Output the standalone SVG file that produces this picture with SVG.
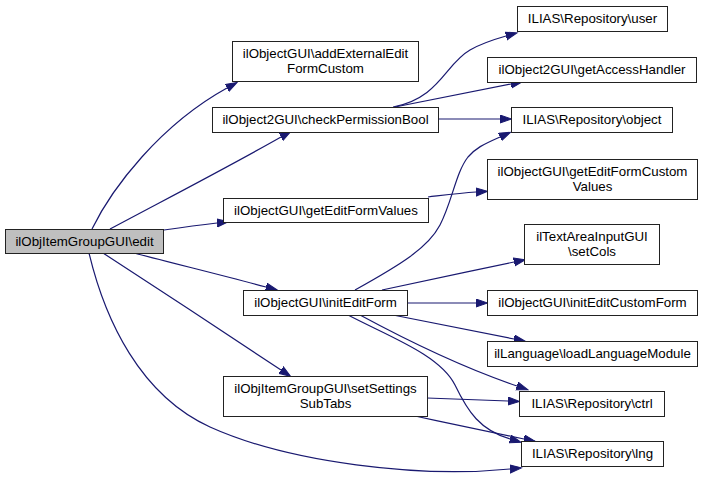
<svg xmlns="http://www.w3.org/2000/svg" width="703" height="480" viewBox="0 0 703 480">
<style>
.node rect{fill:#ffffff;stroke:#222222;stroke-width:1}
.node.root rect{fill:#bfbfbf}
.node text{font-family:"Liberation Sans",Arial,Helvetica,sans-serif;font-size:13.3px;fill:#000000;text-anchor:middle}
.edges path{fill:none;stroke:#191970;stroke-width:1.2;marker-end:url(#arrow)}
</style>
<defs>
<marker id="arrow" markerUnits="userSpaceOnUse" markerWidth="13" markerHeight="10" refX="0" refY="4.5" orient="auto" viewBox="0 0 13 10">
<path d="M0,0.5 L11.5,4.5 L0,8.5 z" fill="#191970" stroke="#191970" stroke-width="1"/>
</marker>
</defs>
<rect width="703" height="480" fill="#ffffff"/>
<g class="edges">
<path d="M92,229 C112,188 160,125 227,88"/>
<path d="M110,229 C170,197 230,166 281,137"/>
<path d="M164,230 C185,227 200,225 217,223"/>
<path d="M134,253 C180,265 225,276 266,287"/>
<path d="M103,253 C160,290 225,333 281,370"/>
<path d="M89,253 C105,320 140,395 210,427 C290,463 420,478 510,469"/>
<path d="M393,107 C440,98 445,64 470,50 C482,43 492,40 506,36"/>
<path d="M395,107 C430,100 470,92 511,84"/>
<path d="M438,119 L500,119"/>
<path d="M428,197 C445,195 460,193 476,192"/>
<path d="M355,290 C400,265 428,248 440,225 C452,202 456,172 468,157 C476,148 482,145 500,137"/>
<path d="M382,290 C425,281 470,271 514,262"/>
<path d="M407,303 L476,303"/>
<path d="M393,315 C435,323 475,331 514,339"/>
<path d="M360,315 C410,342 470,370 517,386"/>
<path d="M348,315 C390,337 440,355 455,385 C468,412 480,430 510,439"/>
<path d="M427,398 C455,399 482,400 508,401"/>
<path d="M415,416 C452,424 490,432 524,439"/>
</g>
<g id="node-edit" class="node root"><rect x="5.5" y="229.5" width="158" height="24"/><text x="84.5" y="245.5">ilObjItemGroupGUI\edit</text></g>
<g id="node-addExternalEditFormCustom" class="node"><rect x="232.5" y="41.5" width="186" height="40"/><text x="325.5" y="57.5">ilObjectGUI\addExternalEdit</text><text x="325.5" y="72.5">FormCustom</text></g>
<g id="node-checkPermissionBool" class="node"><rect x="212.5" y="107.5" width="226" height="25"/><text x="325.5" y="124">ilObject2GUI\checkPermissionBool</text></g>
<g id="node-getEditFormValues" class="node"><rect x="223.5" y="198.5" width="205" height="24"/><text x="326" y="214.5">ilObjectGUI\getEditFormValues</text></g>
<g id="node-initEditForm" class="node"><rect x="243.5" y="290.5" width="164" height="25"/><text x="325.5" y="307">ilObjectGUI\initEditForm</text></g>
<g id="node-setSettingsSubTabs" class="node"><rect x="223.5" y="376.5" width="204" height="40"/><text x="325.5" y="392.5">ilObjItemGroupGUI\setSettings</text><text x="325.5" y="407.5">SubTabs</text></g>
<g id="node-user" class="node"><rect x="517.5" y="6.5" width="150" height="25"/><text x="592.5" y="23">ILIAS\Repository\user</text></g>
<g id="node-getAccessHandler" class="node"><rect x="487.5" y="57.5" width="209" height="25"/><text x="592" y="74">ilObject2GUI\getAccessHandler</text></g>
<g id="node-object" class="node"><rect x="511.5" y="107.5" width="161" height="25"/><text x="592" y="124">ILIAS\Repository\object</text></g>
<g id="node-getEditFormCustomValues" class="node"><rect x="487.5" y="159.5" width="210" height="40"/><text x="592.5" y="175.5">ilObjectGUI\getEditFormCustom</text><text x="592.5" y="190.5">Values</text></g>
<g id="node-setCols" class="node"><rect x="524.5" y="224.5" width="135" height="40"/><text x="592" y="240.5">ilTextAreaInputGUI</text><text x="592" y="255.5">\setCols</text></g>
<g id="node-initEditCustomForm" class="node"><rect x="487.5" y="290.5" width="210" height="25"/><text x="592.5" y="307">ilObjectGUI\initEditCustomForm</text></g>
<g id="node-loadLanguageModule" class="node"><rect x="487.5" y="341.5" width="210" height="25"/><text x="592.5" y="358">ilLanguage\loadLanguageModule</text></g>
<g id="node-ctrl" class="node"><rect x="519.5" y="391.5" width="145" height="25"/><text x="592" y="408">ILIAS\Repository\ctrl</text></g>
<g id="node-lng" class="node"><rect x="521.5" y="441.5" width="142" height="25"/><text x="592.5" y="458">ILIAS\Repository\lng</text></g>
</svg>
